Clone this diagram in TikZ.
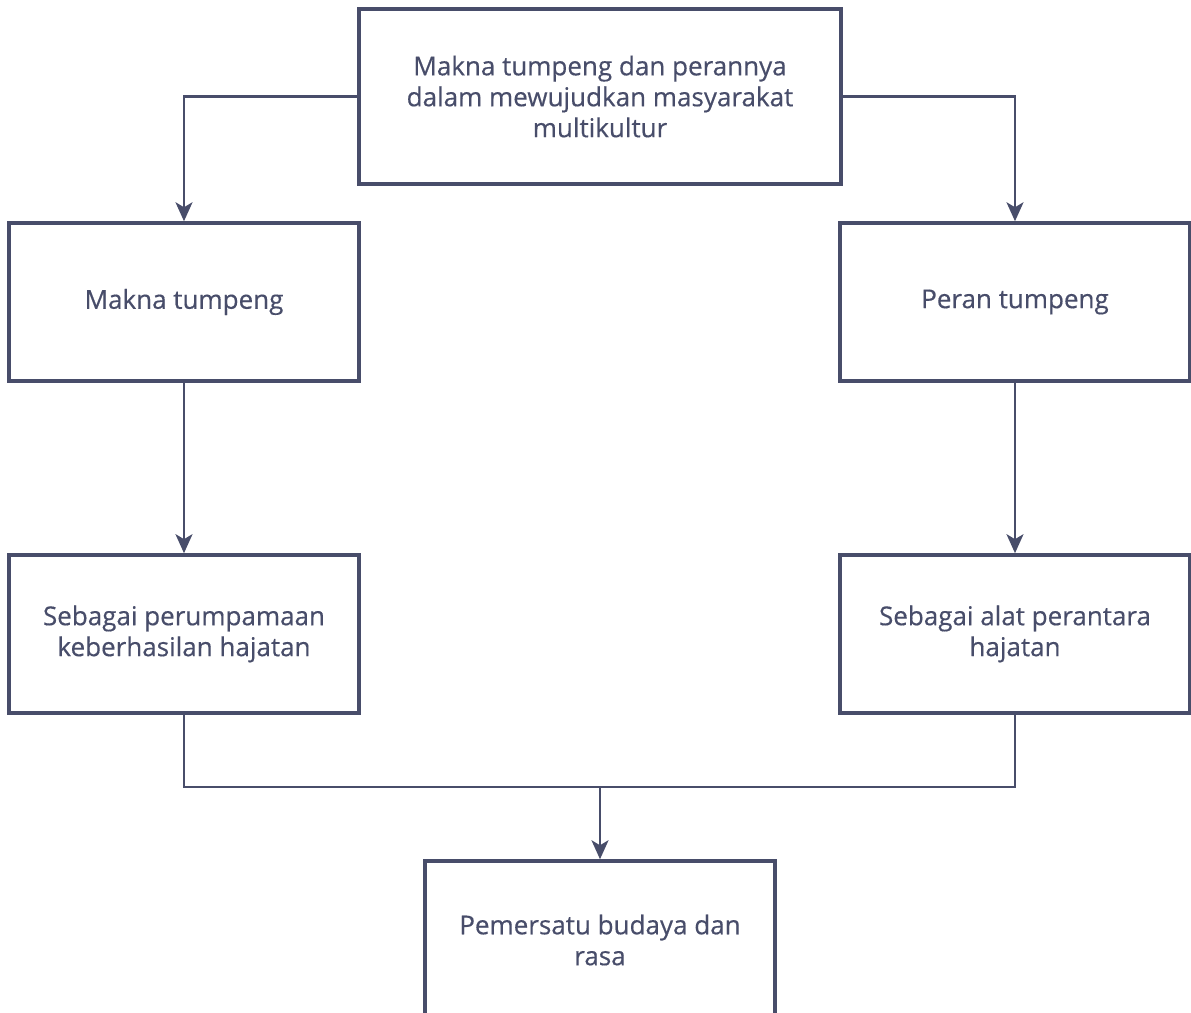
\documentclass[tikz,border=0pt]{standalone}
\usepackage{fontspec}
\setmainfont[FakeBold=0.4]{Open Sans}
\usepackage{tikz}
\usetikzlibrary{arrows.meta}
\usetikzlibrary{positioning}

\definecolor{slate}{RGB}{72,77,106}

\begin{document}
\begin{tikzpicture}[x=0.02cm,y=-0.02cm,>={Stealth[length=0.38cm,width=0.34cm,inset=0.1cm]},
  line width=1.3pt,draw=slate,node distance=6.64cm,
  box/.style={rectangle,draw=slate,line width=2pt,fill=white,text=slate,align=center,
    minimum width=7cm,minimum height=3.16cm,font=\fontsize{14.8}{17.6}\selectfont}]

  \useasboundingbox (0,0) rectangle (1191,1013);

  \node[box,minimum width=9.64cm,minimum height=3.5cm] (topic) at (600,96.5)
    {Makna tumpeng dan perannya\\dalam mewujudkan masyarakat\\multikultur};
  \node[box] (makna) at (184,302) {Makna tumpeng};
  \node[box] (peran) at (1015,302) {Peran tumpeng};
  \node[box] (perumpamaan) [below of=makna] {Sebagai perumpamaan\\keberhasilan hajatan};
  \node[box] (perantara) [below of=peran] {Sebagai alat perantara\\hajatan};
  \node[box] (pemersatu) at (600,940) {Pemersatu budaya dan\\rasa};
  \coordinate (join) at (600,787);

  \draw[->,slate] (topic.west) -| (makna.north);
  \draw[->,slate] (topic.east) -| (peran.north);
  \draw[->,slate] (makna) -- (perumpamaan);
  \draw[->,slate] (peran) -- (perantara);
  \draw[slate] (perumpamaan.south) |- (join) -| (perantara.south);
  \draw[->,slate] (join) -- (pemersatu.north);
\end{tikzpicture}
\end{document}
